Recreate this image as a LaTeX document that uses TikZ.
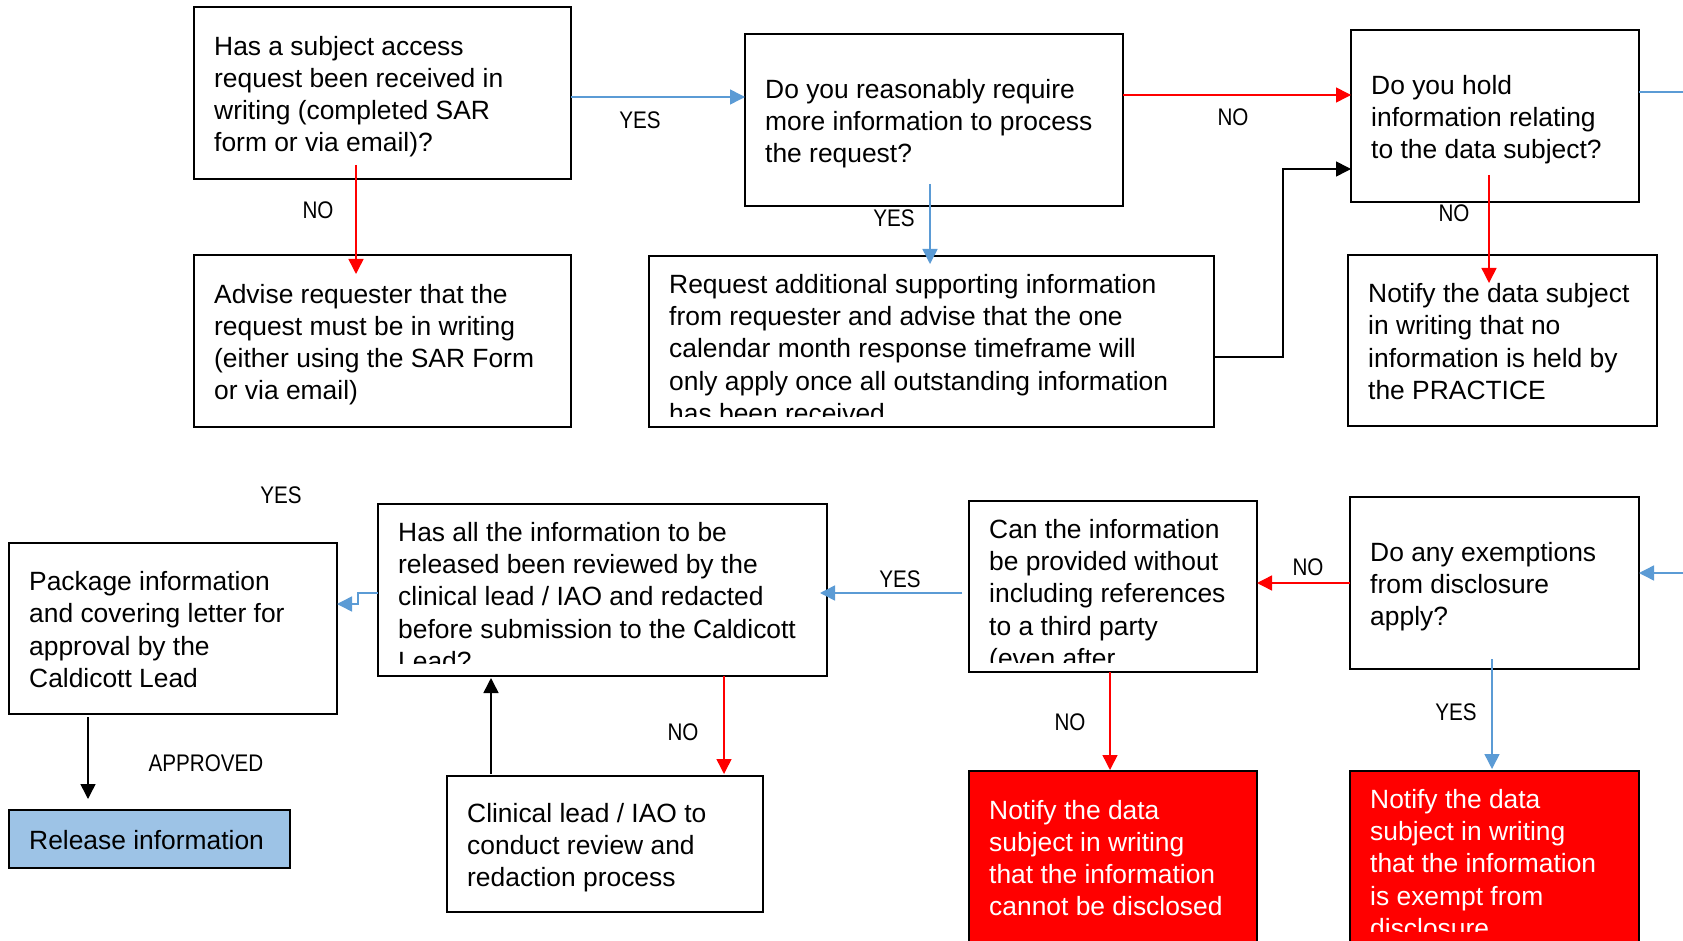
\documentclass[tikz,border=0pt]{standalone}
\usepackage{fontspec}
\setmainfont{Liberation Sans}
\newfontfamily\lblfont[FakeStretch=0.86]{Liberation Sans}
\usetikzlibrary{arrows.meta}
\definecolor{lblue}{RGB}{91,155,213}
\definecolor{fillblue}{RGB}{157,195,230}
\definecolor{fred}{RGB}{255,0,0}
\begin{document}
\begin{tikzpicture}[x=1pt,y=-1pt,
  box/.style={draw=black,line width=2pt,inner sep=0pt,outer sep=0pt,anchor=north west},
  redbox/.style={box,fill=fred},
  bluebox/.style={box,fill=fillblue},
  txt/.style={inner sep=0pt,align=left,font=\fontsize{26.4}{32.3}\selectfont},
  lbl/.style={inner sep=0pt,font=\lblfont\fontsize{24}{28}\selectfont},
  conn/.style={line width=1.5pt,-{Triangle[length=15pt,width=15pt]}},
  barr/.style={conn,draw=lblue},
  rarr/.style={conn,draw=fred},
  karr/.style={conn,draw=black},
]
\fill[white] (0,0) rectangle (1683,941);
\useasboundingbox (0,0) rectangle (1683,941);

% ---------- boxes ----------
\node[box,minimum width=377pt,minimum height=172pt] (b1) at (194,7) {};
\node[box,minimum width=377pt,minimum height=172pt] (b2) at (194,255) {};
\node[box,minimum width=378pt,minimum height=172pt] (b3) at (745,34) {};
\node[box,minimum width=565pt,minimum height=171pt] (b4) at (649,256) {};
\node[box,minimum width=288pt,minimum height=172pt] (b5) at (1351,30) {};
\node[box,minimum width=309pt,minimum height=171pt] (b6) at (1348,255) {};
\node[box,minimum width=328pt,minimum height=171pt] (b7) at (9,543) {};
\node[bluebox,minimum width=281pt,minimum height=58pt] (b8) at (9,810) {};
\node[box,minimum width=449pt,minimum height=172pt] (b9) at (378,504) {};
\node[box,minimum width=316pt,minimum height=136pt] (b10) at (447,776) {};
\node[box,minimum width=288pt,minimum height=171pt] (b11) at (969,501) {};
\node[redbox,minimum width=288pt,minimum height=172pt] (b12) at (969,771) {};
\node[box,minimum width=289pt,minimum height=172pt] (b13) at (1350,497) {};
\node[redbox,minimum width=289pt,minimum height=172pt] (b14) at (1350,771) {};

% ---------- texts (vertically centred) ----------
\node[txt,anchor=west] (t1) at ([xshift=20pt,yshift=-4pt]b1.west)
  {\strut Has a subject access\\request been received in\\writing (completed SAR\\form or via email)?\strut};
\node[txt,anchor=west] (t2) at ([xshift=20pt,yshift=-4pt]b2.west)
  {\strut Advise requester that the\\request must be in writing\\(either using the SAR Form\\or via email)\strut};
\node[txt,anchor=west] (t3) at ([xshift=20pt,yshift=-4pt]b3.west)
  {\strut Do you reasonably require\\more information to process\\the request?\strut};
\node[txt,anchor=west] (t5) at ([xshift=20pt,yshift=-4pt]b5.west)
  {\strut Do you hold\\information relating\\to the data subject?\strut};
\node[txt,anchor=west] (t6) at ([xshift=20pt,yshift=-4pt]b6.west)
  {\strut Notify the data subject\\in writing that no\\information is held by\\the PRACTICE\strut};
\node[txt,anchor=west] (t7) at ([xshift=20pt,yshift=-4pt]b7.west)
  {\strut Package information\\and covering letter for\\approval by the\\Caldicott Lead\strut};
\node[txt,anchor=west] (t8) at ([xshift=20pt,yshift=-4pt]b8.west)
  {\strut Release information\strut};
\node[txt,anchor=west] (t10) at ([xshift=20pt,yshift=-4pt]b10.west)
  {\strut Clinical lead / IAO to\\conduct review and\\redaction process\strut};
\node[txt,anchor=west,text=white] (t12) at ([xshift=20pt,yshift=-4pt]b12.west)
  {\strut Notify the data\\subject in writing\\that the information\\cannot be disclosed\strut};
\node[txt,anchor=west] (t13) at ([xshift=20pt,yshift=-4pt]b13.west)
  {\strut Do any exemptions\\from disclosure\\apply?\strut};

% ---------- texts (top aligned, clipped) ----------
\begin{scope}
\clip (b4.north west) rectangle ([yshift=11pt]b4.south east);
\node[txt,anchor=north west] (t4) at ([xshift=20pt,yshift=-14.4pt]b4.north west)
  {\strut Request additional supporting information\\from requester and advise that the one\\calendar month response timeframe will\\only apply once all outstanding information\\has been received\strut};
\end{scope}
\begin{scope}
\clip (b9.north west) rectangle ([yshift=13pt]b9.south east);
\node[txt,anchor=north west] (t9) at ([xshift=20pt,yshift=-14.4pt]b9.north west)
  {\strut Has all the information to be\\released been reviewed by the\\clinical lead / IAO and redacted\\before submission to the Caldicott\\Lead?\strut};
\end{scope}
\begin{scope}
\clip (b11.north west) rectangle ([yshift=10pt]b11.south east);
\node[txt,anchor=north west] (t11) at ([xshift=20pt,yshift=-14.4pt]b11.north west)
  {\strut Can the information\\be provided without\\including references\\to a third party\\(even after\strut};
\end{scope}
\begin{scope}
\clip (b14.north west) rectangle ([yshift=12pt]b14.south east);
\node[txt,anchor=north west,text=white] (t14) at ([xshift=20pt,yshift=-14.4pt]b14.north west)
  {\strut Notify the data\\subject in writing\\that the information\\is exempt from\\disclosure\strut};
\end{scope}

% ---------- labels ----------
\node[lbl] (l1) at (640,120) {YES};
\node[lbl] (l2) at (318,210) {NO};
\node[lbl] (l3) at (1233,117) {NO};
\node[lbl] (l4) at (894,218) {YES};
\node[lbl] (l5) at (1454,213) {NO};
\node[lbl] (l6) at (1308,567) {NO};
\node[lbl] (l7) at (1456,712) {YES};
\node[lbl] (l8) at (900,579) {YES};
\node[lbl] (l9) at (1070,722) {NO};
\node[lbl] (l10) at (683,732) {NO};
\node[lbl] (l11) at (281,495) {YES};
\node[lbl] (l12) at (206,763) {APPROVED};

% ---------- connectors ----------
\coordinate (e1) at (1685,92);
\coordinate (e2) at (1685,573);
\draw[barr] ([yshift=-4pt]b1.east) -- ([yshift=-4pt]b1.east -| b3.west);
\draw[rarr] ([xshift=162pt,yshift=14pt]b1.south west) -- ([xshift=162pt,yshift=-19pt]b2.north west);
\draw[rarr] ([yshift=25pt]b3.east) -- ([yshift=25pt]b3.east -| b5.west);
\draw[barr] ([xshift=185pt,yshift=22pt]b3.south west) -- ([xshift=281pt,yshift=-8pt]b4.north west);
\draw[karr] ([yshift=-15.5pt]b4.east) -| ([xshift=-68pt,yshift=-53pt]b5.west) -- ([yshift=-53pt]b5.west);
\draw[rarr] ([xshift=138pt,yshift=27pt]b5.south west) -- ([xshift=141pt,yshift=-28pt]b6.north west);
\draw[lblue,line width=1.5pt] ([yshift=24pt]b5.east) -- (e1);
\draw[barr] (e2) -- (e2 -| b13.east);
\draw[rarr] (b13.west) -- (b13.west -| b11.east);
\draw[barr] ([xshift=142pt,yshift=10pt]b13.south west) -- ([xshift=142pt,yshift=2pt]b14.north west);
\draw[barr] ([xshift=-7pt,yshift=-6.5pt]b11.west) -- ([xshift=-7pt,yshift=-6.5pt]b11.west -| b9.east);
\draw[rarr] ([xshift=141pt]b11.south west) -- ([xshift=141pt,yshift=1pt]b12.north west);
\draw[rarr] ([xshift=346pt]b9.south west) -- ([xshift=277pt,yshift=2pt]b10.north west);
\draw[karr] ([xshift=44pt,yshift=2pt]b10.north west) -- ([xshift=113pt,yshift=-2pt]b9.south west);
\draw[barr] ([yshift=-3pt]b9.west) -- ++(-20,0) |- ([yshift=24.5pt]b7.east);
\draw[karr] ([xshift=79pt,yshift=-3pt]b7.south west) -- ([xshift=79pt,yshift=11pt]b8.north west);
\end{tikzpicture}
\end{document}
